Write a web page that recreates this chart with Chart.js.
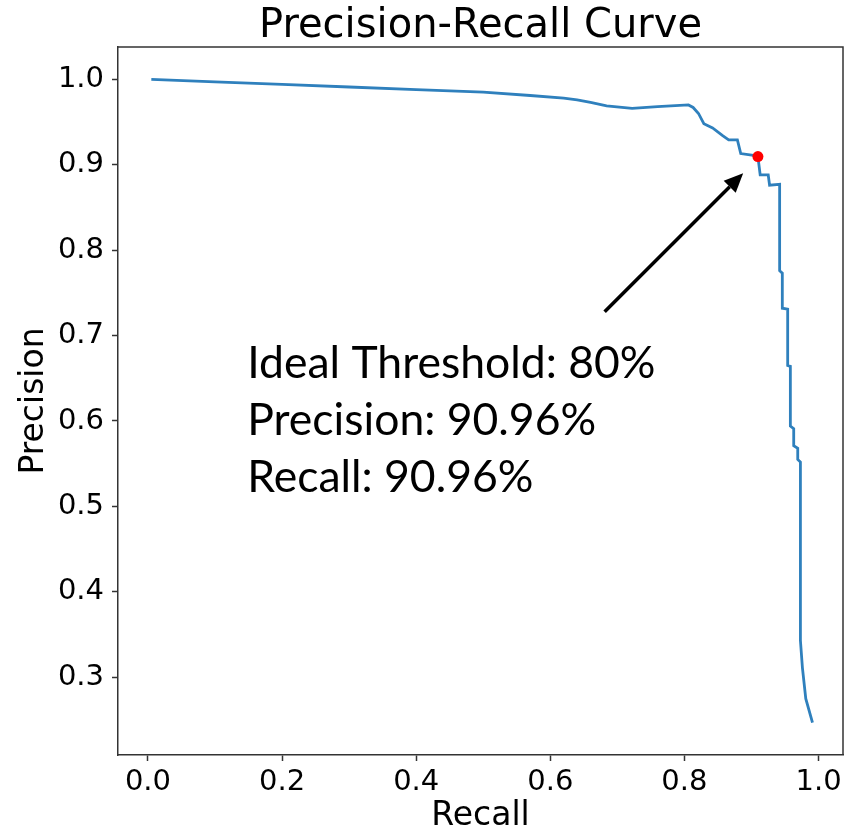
<!DOCTYPE html>
<html>
<head>
<meta charset="utf-8">
<script src="https://cdn.jsdelivr.net/npm/chart.js@4"></script>
<style>
  html, body { margin: 0; padding: 0; background: #fff; }
  #wrap { width: 856px; height: 831px; }
</style>
</head>
<body>
<div id="wrap"><canvas id="prChart" width="856" height="831"></canvas></div>
<script>
// =========================
// DATA
// =========================

const recall = [0.005, 0.1, 0.2, 0.3, 0.4, 0.5, 0.57, 0.62, 0.64, 0.66, 0.684, 0.722, 0.76,
    0.806, 0.813, 0.821, 0.829, 0.842, 0.857, 0.866, 0.879, 0.884, 0.903, 0.9096, 0.913,
    0.925, 0.927, 0.942, 0.942, 0.946, 0.946, 0.954, 0.954, 0.958, 0.958, 0.963, 0.963,
    0.969, 0.969, 0.973, 0.973, 0.976, 0.981, 0.991];
const precision = [1.0, 0.997, 0.994, 0.991, 0.988, 0.985, 0.981, 0.978, 0.976, 0.973, 0.969, 0.966, 0.968,
    0.970, 0.967, 0.960, 0.948, 0.943, 0.934, 0.929, 0.929, 0.913, 0.911, 0.9096, 0.888,
    0.888, 0.876, 0.877, 0.776, 0.773, 0.732, 0.731, 0.665, 0.664, 0.594, 0.591, 0.571,
    0.568, 0.555, 0.552, 0.343, 0.311, 0.275, 0.247];

const bestPoint = [0.9096, 0.9096];          // ideal threshold point (recall, precision)
const arrowFrom = [0.681, 0.728];
const arrowTo = [0.8876, 0.890];
const noteAt = [0.148, 0.650];
const noteLines = ["Ideal Threshold: 80%", "Precision: 90.96%", "Recall: 90.96%"];

const xTicks = [0.0, 0.2, 0.4, 0.6, 0.8, 1.0];
const yTicks = [0.3, 0.4, 0.5, 0.6, 0.7, 0.8, 0.9, 1.0];

const titleText = "Precision-Recall Curve";
const xLabel = "Recall";
const yLabel = "Precision";

// =========================
// helpers / plugins
// =========================

const FONT = "'DejaVu Sans', sans-serif";
const AXIS_COLOR = "#333333";

const decorations = {
    id: "decorations",
    afterDatasetsDraw(chart) {
        const ctx = chart.ctx;
        const area = chart.chartArea;
        const xs = chart.scales.x;
        const ys = chart.scales.y;

        ctx.save();

        // top + right spines (left/bottom come from the axis borders)
        ctx.strokeStyle = AXIS_COLOR;
        ctx.lineWidth = 1.5;
        ctx.beginPath();
        ctx.moveTo(area.left, area.top);
        ctx.lineTo(area.right, area.top);
        ctx.lineTo(area.right, area.bottom);
        ctx.stroke();

        // arrow
        const x0 = xs.getPixelForValue(arrowFrom[0]);
        const y0 = ys.getPixelForValue(arrowFrom[1]);
        const x1 = xs.getPixelForValue(arrowTo[0]);
        const y1 = ys.getPixelForValue(arrowTo[1]);
        const ang = Math.atan2(y1 - y0, x1 - x0);
        const headLen = 19, headHalf = 8.5;
        const bx = x1 - headLen * Math.cos(ang);
        const by = y1 - headLen * Math.sin(ang);

        ctx.strokeStyle = "#000";
        ctx.lineWidth = 3.5;
        ctx.lineCap = "butt";
        ctx.beginPath();
        ctx.moveTo(x0, y0);
        ctx.lineTo(bx, by);
        ctx.stroke();

        ctx.fillStyle = "#000";
        ctx.beginPath();
        ctx.moveTo(x1, y1);
        ctx.lineTo(bx + headHalf * Math.sin(ang), by - headHalf * Math.cos(ang));
        ctx.lineTo(bx - headHalf * Math.sin(ang), by + headHalf * Math.cos(ang));
        ctx.closePath();
        ctx.fill();

        // annotation text
        const tx = xs.getPixelForValue(noteAt[0]);
        const ty = ys.getPixelForValue(noteAt[1]);
        ctx.font = "44.5px Lato, 'Open Sans', sans-serif";
        ctx.textAlign = "left";
        ctx.textBaseline = "alphabetic";
        noteLines.forEach((line, i) => {
            ctx.fillText(line, tx, ty + i * 57);
        });

        // title + axis labels
        const cx = (area.left + area.right) / 2;
        ctx.textAlign = "center";
        ctx.font = "40px " + FONT;
        ctx.fillText(titleText, cx, 37);

        ctx.font = "33px " + FONT;
        ctx.fillText(xLabel, cx, 825);

        ctx.save();
        ctx.translate(43, (area.top + area.bottom) / 2);
        ctx.rotate(-Math.PI / 2);
        ctx.font = "33px " + FONT;
        ctx.fillText(yLabel, 0, 0);
        ctx.restore();

        ctx.restore();
    }
};

// =========================
// CHART
// =========================

const canvas = document.getElementById("prChart");

new Chart(canvas, {
    type: "scatter",
    data: {
        datasets: [{
            label: "PR curve",
            data: recall.map((r, i) => ({ x: r, y: precision[i] })),
            showLine: true,
            borderColor: "#2f80bd",
            borderWidth: 2.8,
            pointRadius: 0,
            tension: 0,
            order: 2
        }, {
            label: "Ideal threshold",
            data: [{ x: bestPoint[0], y: bestPoint[1] }],
            pointRadius: 5.5,
            pointBackgroundColor: "#ff0000",
            pointBorderWidth: 0,
            order: 1
        }]
    },
    options: {
        responsive: false,
        animation: false,
        layout: {
            padding: { top: 47, right: 13, left: 0, bottom: 0 }
        },
        plugins: {
            legend: { display: false },
            tooltip: { enabled: false }
        },
        scales: {
            x: {
                type: "linear",
                min: -0.0447,
                max: 1.0365,
                afterBuildTicks: (scale) => { scale.ticks = xTicks.map(v => ({ value: v })); },
                afterFit: (scale) => { scale.height = 76; },
                ticks: {
                    callback: (v) => Number(v).toFixed(1),
                    font: { family: FONT, size: 29 },
                    color: "#000",
                    padding: 4,
                    maxRotation: 0,
                    autoSkip: false
                },
                grid: {
                    drawOnChartArea: false,
                    drawTicks: true,
                    tickLength: 6,
                    tickColor: AXIS_COLOR,
                    tickWidth: 1.5
                },
                border: { display: true, color: AXIS_COLOR, width: 1.5 }
            },
            y: {
                type: "linear",
                min: 0.209,
                max: 1.0378,
                afterBuildTicks: (scale) => { scale.ticks = yTicks.map(v => ({ value: v })); },
                afterFit: (scale) => { scale.width = 118; },
                ticks: {
                    callback: (v) => Number(v).toFixed(1),
                    font: { family: FONT, size: 29 },
                    color: "#000",
                    padding: 8,
                    autoSkip: false
                },
                grid: {
                    drawOnChartArea: false,
                    drawTicks: true,
                    tickLength: 6,
                    tickColor: AXIS_COLOR,
                    tickWidth: 1.5
                },
                border: { display: true, color: AXIS_COLOR, width: 1.5 }
            }
        }
    },
    plugins: [decorations]
});
</script>
</body>
</html>
